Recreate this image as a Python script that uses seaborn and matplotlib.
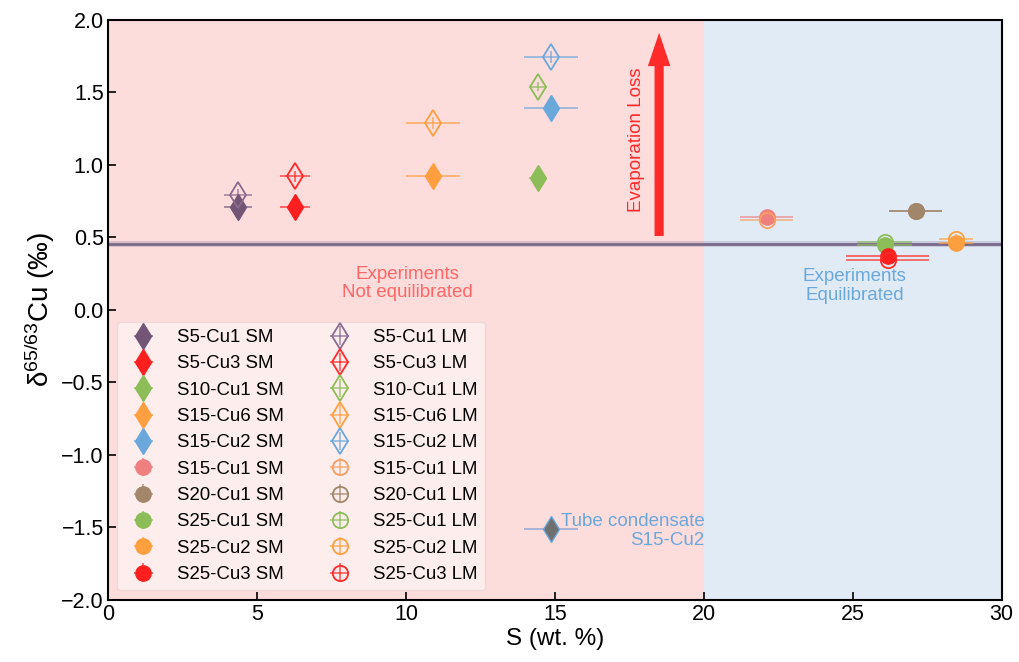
import matplotlib
matplotlib.use("Agg")
import matplotlib.pyplot as plt
import seaborn as sns
from matplotlib.colors import to_rgba
from matplotlib.patches import FancyArrowPatch

# ---------------- data ----------------
samples = ['S5-Cu1', 'S5-Cu3', 'S10-Cu1', 'S15-Cu6', 'S15-Cu2',
           'S15-Cu1', 'S20-Cu1', 'S25-Cu1', 'S25-Cu2', 'S25-Cu3']
s_wt = [4.36, 6.27, 14.43, 10.9, 14.87, 22.11, 27.11, 26.07, 28.46, 26.17]
s_err = [0.47, 0.5, 0.3, 0.9, 0.9, 0.9, 0.9, 0.93, 0.57, 1.4]
d_sm = [0.71, 0.71, 0.91, 0.92, 1.39, 0.64, 0.68, 0.45, 0.46, 0.37]
d_sm_err = [0.03, 0.03, 0.03, 0.03, 0.03, 0.03, 0.03, 0.03, 0.03, 0.03]
d_lm = [0.79, 0.92, 1.54, 1.29, 1.745, 0.62, 0.68, 0.47, 0.49, 0.345]
d_lm_err = [0.04, 0.04, 0.03, 0.04, 0.04, 0.03, 0.03, 0.03, 0.03, 0.03]
sm_colors = ['#735676', '#ff1f1f', '#8cbd58', '#ff9f40', '#6aa8dc',
             '#ee8080', '#a2866a', '#8cbd58', '#ffa040', '#ff1f1f']
lm_colors = ['#8a6a8e', '#ff2a2a', '#8cbd58', '#ff9f40', '#6aa8dc',
             '#f8a060', '#a2866a', '#8cbd58', '#ffa040', '#ff2a2a']
shapes = ['d', 'd', 'd', 'd', 'd', 'o', 'o', 'o', 'o', 'o']

tube_s = [14.87]
tube_s_err = [0.9]
tube_d = [-1.51]

baseline = 0.455
x_ticks = [0, 5, 10, 15, 20, 25, 30]
y_ticks = [-2.0, -1.5, -1.0, -0.5, 0.0, 0.5, 1.0, 1.5, 2.0]

# ---------------- style ----------------
sns.set_theme(style="ticks")
plt.rcParams['font.family'] = ['Liberation Sans', 'DejaVu Sans']
plt.rcParams['mathtext.fontset'] = 'custom'
plt.rcParams['mathtext.rm'] = 'Liberation Sans'
plt.rcParams['text.color'] = 'black'
plt.rcParams['axes.labelcolor'] = 'black'

fig = plt.figure(figsize=(10.19, 6.62), dpi=100)
ax = fig.add_axes([0.106, 0.094, 0.877, 0.876])

ax.axvspan(0, 20, color='#fddcdc', zorder=0, lw=0)
ax.axvspan(20, 30, color='#e1ebf6', zorder=0, lw=0)

# baseline
ax.axhspan(baseline - 0.022, baseline + 0.022, color='#9a8aa8', alpha=0.35, lw=0, zorder=1)
ax.axhline(baseline, color='#6a5a7c', lw=2.0, alpha=0.85, zorder=1)

sm_handles, lm_handles = [], []
for i, name in enumerate(samples):
    ms = 13 if shapes[i] == 'd' else 11
    h = ax.errorbar(s_wt[i], d_sm[i], xerr=s_err[i], yerr=d_sm_err[i],
                    fmt=shapes[i], ms=ms, color=sm_colors[i], mfc=sm_colors[i],
                    mec=sm_colors[i], ecolor=to_rgba(sm_colors[i], 0.75),
                    elinewidth=1.2, capsize=0, zorder=3, label=f'{name} SM')
    sm_handles.append(h)
    h2 = ax.errorbar(s_wt[i], d_lm[i], xerr=s_err[i], yerr=d_lm_err[i],
                     fmt=shapes[i], ms=ms, color=lm_colors[i], mfc='none',
                     mec=lm_colors[i], mew=1.3, ecolor=to_rgba(lm_colors[i], 0.75),
                     elinewidth=1.2, capsize=0, zorder=3, label=f'{name} LM')
    lm_handles.append(h2)

# tube condensate
ax.errorbar(tube_s, tube_d, xerr=tube_s_err, fmt='d', ms=13, color='#707070',
            mec='#6aa8dc', mew=1.0, ecolor=to_rgba('#8fa8d8', 0.9),
            elinewidth=1.2, capsize=0, zorder=3)
ax.text(20.02, -1.525, 'Tube condensate\nS15-Cu2', color='#6aa8dc', fontsize=13.5,
        ha='right', va='center', multialignment='right', linespacing=1.1)

# regions text
ax.text(10.05, 0.18, 'Experiments\nNot equilibrated', color='#ff6666', fontsize=13.5,
        ha='center', va='center', linespacing=1.1)
ax.text(25.07, 0.165, 'Experiments\nEquilibrated', color='#6aa8dc', fontsize=13.5,
        ha='center', va='center', linespacing=1.1)

# arrow
arrow = FancyArrowPatch((18.5, 0.49), (18.5, 1.93),
                        arrowstyle='simple,head_length=2.0,head_width=1.35,tail_width=0.55',
                        mutation_scale=12, color='#ff2a2a', lw=0, zorder=4)
ax.add_patch(arrow)
ax.text(17.75, 1.17, 'Evaporation Loss', color='#ff2a2a', fontsize=13.5,
        rotation=90, ha='center', va='center')

ax.set_xlim(0, 30)
ax.set_ylim(-2.0, 2.0)
ax.set_xticks(x_ticks)
ax.set_yticks(y_ticks)
ax.set_xticklabels([str(t) for t in x_ticks])
ax.set_yticklabels([f'{t:.1f}'.replace('-', '\u2212') for t in y_ticks])
ax.tick_params(direction='in', length=6, width=1.2, labelsize=15.5, colors='black', pad=3)
for sp in ax.spines.values():
    sp.set_color('black')
    sp.set_linewidth(1.5)

ax.set_xlabel('S (wt. %)', fontsize=17.5, labelpad=2, color='black')
ax.set_ylabel(r'$\mathregular{\delta^{65/63}}$Cu (‰)', fontsize=20, labelpad=3, color='black')

leg = ax.legend(handles=sm_handles + lm_handles, loc='lower left', ncol=2,
                fontsize=13.4, frameon=True, facecolor='white', edgecolor='#e0d0d0',
                framealpha=0.5, labelcolor='black')

fig.savefig('out.png', dpi=100)
